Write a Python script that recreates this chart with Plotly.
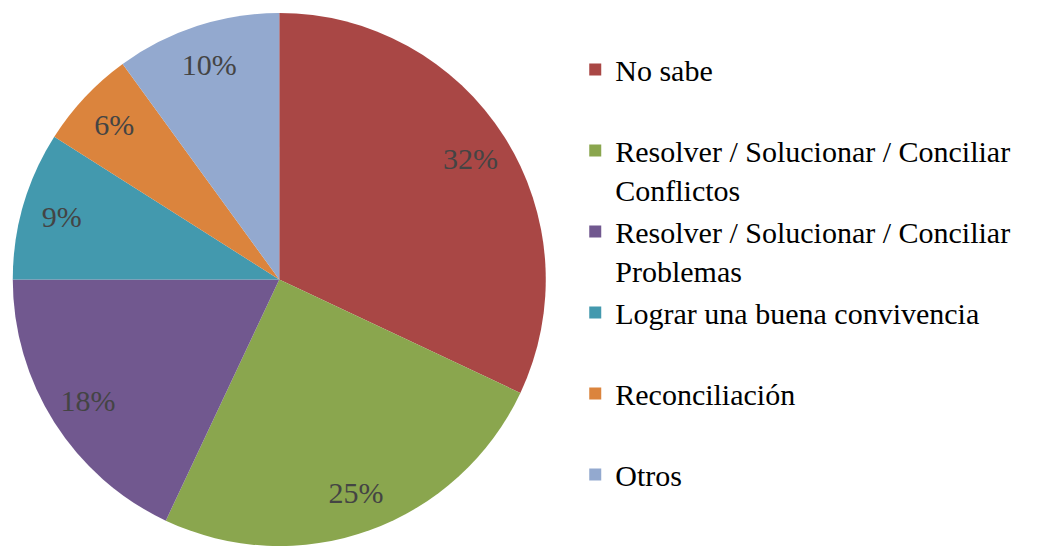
import plotly.graph_objects as go

categories = [
    "No sabe",
    "Resolver / Solucionar / Conciliar<br>Conflictos",
    "Resolver / Solucionar / Conciliar<br>Problemas",
    "Lograr una buena convivencia",
    "Reconciliación",
    "Otros",
]
values = [32, 25, 18, 9, 6, 10]
colors = ["#A94745", "#8AA64E", "#71588F", "#4399AE", "#DB843D", "#93A9CF"]

SERIF = "Liberation Serif"

# pad single-line entries to two lines so legend entries are evenly spaced
legend_labels = [c if "<br>" in c else c + "<br>" for c in categories]

domain = dict(x=[0.0, 0.535], y=[0, 1])

fig = go.Figure()
# coloured pie (no text)
fig.add_trace(
    go.Pie(
        labels=legend_labels,
        values=values,
        marker=dict(colors=colors, line=dict(width=0)),
        sort=False,
        direction="clockwise",
        rotation=0,
        textinfo="none",
        domain=domain,
        showlegend=True,
    )
)
# transparent ring carrying the percentage labels near the rim
fig.add_trace(
    go.Pie(
        labels=legend_labels,
        values=values,
        marker=dict(colors=["rgba(255,255,255,0)"] * len(values), line=dict(width=0)),
        sort=False,
        direction="clockwise",
        rotation=0,
        hole=0.7,
        textinfo="percent",
        textposition="inside",
        insidetextorientation="horizontal",
        textfont=dict(family=SERIF, size=30),
        domain=domain,
        showlegend=False,
        hoverinfo="skip",
    )
)

fig.update_layout(
    width=1044,
    height=546,
    margin=dict(l=0, r=0, t=13, b=0),
    paper_bgcolor="white",
    plot_bgcolor="white",
    font=dict(family=SERIF, size=30, color="black"),
    legend=dict(
        x=0.551,
        xanchor="left",
        y=0.943,
        yanchor="top",
        valign="top",
        font=dict(family=SERIF, size=30),
    ),
    showlegend=True,
)

fig.write_html("out.html", config={"displayModeBar": False},
               post_script="document.body.style.margin='0px';")
